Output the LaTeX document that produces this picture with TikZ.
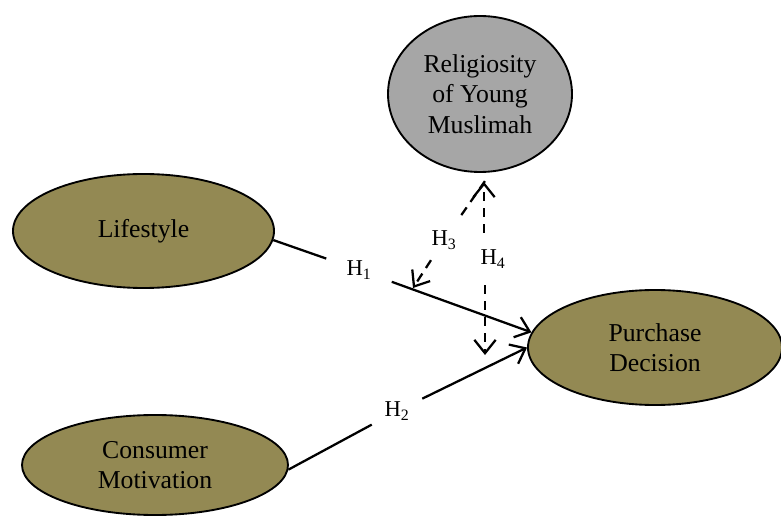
\documentclass[tikz,border=0pt]{standalone}
\usepackage{fontspec}
\setmainfont{Liberation Serif}
\usetikzlibrary{arrows.meta, shapes.geometric}
\definecolor{relfill}{HTML}{A6A6A6}
\definecolor{varfill}{HTML}{938953}

\begin{document}
\begin{tikzpicture}[x=0.75pt, y=-0.75pt,
      var/.style={draw, ellipse, line width=1.4pt, inner sep=0pt,
                  align=center, font=\fontsize{19.3}{22.9}\selectfont},
      hyp/.style={font=\fontsize{17}{20}\selectfont, inner sep=#1},
      hyp/.default=3pt,
      arr/.style={-{Straight Barb[length=10pt, width=16pt]}, line width=1.7pt},
      line/.style={line width=1.7pt},
      darr/.style={line width=1.7pt, dash pattern=on 7pt off 5pt}
    ]
    \useasboundingbox (0,0) rectangle (781,516);

    %% ---- variables ----
    \node[var, fill=relfill, minimum width=138pt, minimum height=117pt]
          at (480,94) (rel) {Religiosity\\of Young\\Muslimah};
    \node[var, fill=varfill, minimum width=195.75pt, minimum height=85.5pt]
          at (143.5,231) (life) {Lifestyle};
    \node[var, fill=varfill, minimum width=190.5pt, minimum height=86.25pt]
          at (655,347.5) (pd) {Purchase\\Decision};
    \node[var, fill=varfill, minimum width=199.5pt, minimum height=75pt]
          at (155,465) (cm) {Consumer\\Motivation};

    %% ---- hypothesis labels ----
    \node[hyp=15pt]  at (359,270) (h1) {H\textsubscript{1}};
    \node[hyp=9.4pt] at (397,411) (h2) {H\textsubscript{2}};
    \node[hyp=8pt]   at (444,240) (h3) {H\textsubscript{3}};
    \node[hyp, inner ysep=12.5pt] at (493,259) (h4) {H\textsubscript{4}};

    %% free ends
    \coordinate (t3) at (413,288);
    \coordinate (t4a) at (484,182);
    \coordinate (t4b) at (485,355);

    %% ---- direct effects ----
    \draw[line] (life.-4) -- (h1);
    \draw[arr]  (h1) -- (pd.173);
    \draw[line] (cm.-2) -- (h2);
    \draw[arr]  (h2) -- (pd.west);

    %% ---- moderation (dashed) ----
    \draw[darr, shorten <=8pt] (rel.-82) -- (h3);
    \draw[darr, arr] (h3) -- (t3);
    \draw[darr, arr] (t4a |- h4.north) -- (t4a);
    \draw[darr, arr] (t4b |- h4.south) -- (t4b);

  \end{tikzpicture}
\end{document}
